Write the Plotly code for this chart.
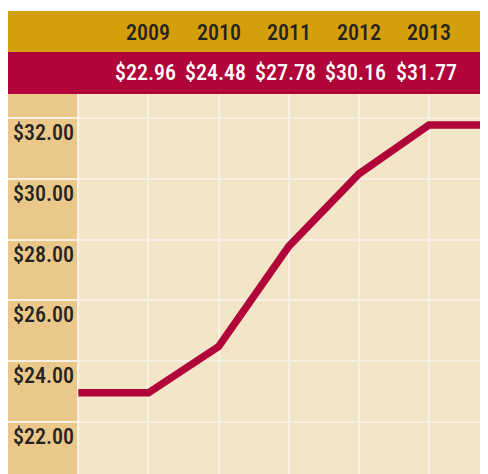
import plotly.graph_objects as go

years = [2009, 2010, 2011, 2012, 2013]
prices = [22.96, 24.48, 27.78, 30.16, 31.77]
price_labels = ["$22.96", "$24.48", "$27.78", "$30.16", "$31.77"]
y_ticks = [22, 24, 26, 28, 30, 32]
y_tick_labels = ["$22.00", "$24.00", "$26.00", "$28.00", "$30.00", "$32.00"]

W, H = 480, 466
GOLD = "#D49F0B"
RED = "#B10539"
BEIGE = "#F3E5C7"
TAN = "#EAC88A"
GRID = "#F8F0E5"
DARK = "#232323"
FONT = "Liberation Sans Narrow, Roboto Condensed, DejaVu Sans Condensed, Arial Narrow, sans-serif"

# line extends flat before the first and after the last year
line_x = [years[0] - 1] + years + [years[-1] + 1]
line_y = [prices[0]] + prices + [prices[-1]]

fig = go.Figure()
fig.add_trace(go.Scatter(x=line_x, y=line_y, mode="lines",
                         line=dict(color=RED, width=7.5), hoverinfo="skip"))

PX_PER_YEAR = 70.14
x_lo = 2008 - 70.3 / PX_PER_YEAR
x_hi = x_lo + W / PX_PER_YEAR
PX_PER_DOLLAR = 30.4
y_hi = 32 + 24 / PX_PER_DOLLAR
y_lo = y_hi - (H - 86) / PX_PER_DOLLAR

shapes = [
    dict(type="rect", xref="paper", yref="paper", x0=0, x1=1, y0=1 - 44 / H, y1=1 - 3 / H,
         fillcolor=GOLD, line=dict(width=0)),
    dict(type="rect", xref="paper", yref="paper", x0=0, x1=1, y0=1 - 86 / H, y1=1 - 44 / H,
         fillcolor=RED, line=dict(width=0)),
    dict(type="rect", xref="x", yref="y", x0=x_lo, x1=years[0] - 1, y0=y_lo, y1=y_hi,
         fillcolor=TAN, line=dict(width=0), layer="below"),
]

annotations = []
for yr, lab in zip(years, price_labels):
    annotations.append(dict(x=yr, xref="x", y=1 - 24 / H, yref="paper", text=str(yr),
                            showarrow=False, xanchor="center", yanchor="middle",
                            font=dict(family=FONT, size=22, color=DARK, weight=500)))
    annotations.append(dict(x=yr, xref="x", y=1 - 64 / H, yref="paper", text=lab,
                            showarrow=False, xanchor="center", yanchor="middle", xshift=-3,
                            font=dict(family=FONT, size=22, color="white", weight=500)))
for v, lab in zip(y_ticks, y_tick_labels):
    annotations.append(dict(x=3 / W, xref="paper", y=v, yref="y", text=lab,
                            showarrow=False, xanchor="left", yanchor="top", yshift=0,
                            font=dict(family=FONT, size=22, color=DARK, weight=500)))

fig.update_layout(
    width=W, height=H,
    margin=dict(l=0, r=0, t=0, b=0),
    paper_bgcolor="white",
    plot_bgcolor=BEIGE,
    showlegend=False,
    shapes=shapes,
    annotations=annotations,
    xaxis=dict(domain=[0, 1], range=[x_lo, x_hi], tickvals=[years[0] - 1] + years,
               showticklabels=False, showgrid=True, gridcolor=GRID, gridwidth=2,
               zeroline=False, showline=False, ticks=""),
    yaxis=dict(domain=[0, 1 - 86 / H], range=[y_lo, y_hi], tickvals=y_ticks,
               showticklabels=False, showgrid=True, gridcolor=GRID, gridwidth=2,
               zeroline=False, showline=False, ticks=""),
)

fig.write_html("out.html")
